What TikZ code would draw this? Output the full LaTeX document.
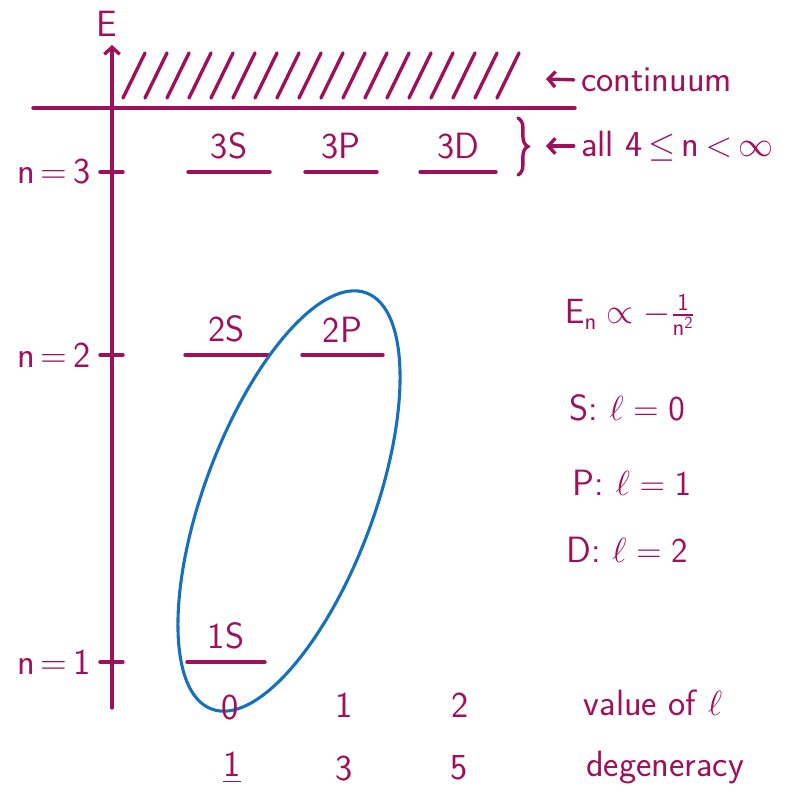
\documentclass[tikz,border=0pt]{standalone}
\usepackage{amssymb}
\usepackage{amsmath}
\usepackage{tikz}
\usetikzlibrary{calc,arrows.meta,decorations.pathreplacing}
\definecolor{ink}{RGB}{160,16,90}
\definecolor{loopblue}{RGB}{22,112,190}

\begin{document}
\begin{tikzpicture}[x=0.025cm, y=-0.025cm,
    ink/.style={draw=ink, line width=2.4pt, line cap=round},
    lbl/.style={text=ink, font=\fontsize{26}{30}\selectfont\sffamily, inner sep=2pt},
    barb/.style={-{Straight Barb[length=5pt, width=11pt]}}]
    \useasboundingbox (0,0) rectangle (788,795);
    \coordinate (axbot) at (112,708); \coordinate (axtop) at (112,45);
    \draw[ink, barb] (axbot) -- (axtop);
    \node[lbl] (E) at (107,24) {E};
    \coordinate (cl) at (33,108); \coordinate (cr) at (575,108);
    \draw[ink] (cl) -- (cr);
    \foreach \x in {123,145,...,500} \draw[ink] (\x,98) -- (\x+22,53);
    \foreach \n/\y in {3/172,2/355,1/662} {
        \coordinate (t\n) at (112,\y);
        \draw[ink] ($(t\n)+(-12,0)$) -- ($(t\n)+(11,0)$);
        \node[lbl, anchor=east] (nl\n) at (94,\y) {n\,=\,\n};
    }
    \foreach \nm/\xa/\xb/\y in {3S/188/270/172, 3P/305/377/172, 3D/420/496/172,
        2S/185/268/355, 2P/302/383/355, 1S/187/265/662} {
        \draw[ink] (\xa,\y) -- (\xb,\y);
        \node[lbl, above=7pt] (lv\nm) at ({(\xa+\xb)/2},\y) {\nm};
    }
    \coordinate (brT) at (518,118); \coordinate (brB) at (518,175);
    \draw[ink, decorate, decoration={brace, amplitude=7pt}] (brT) -- (brB);
    \node[lbl, anchor=west] (cont) at (578,80) {continuum};
    \node[lbl, anchor=west] (allN) at (578,146) {all 4\,$\le$\,n\,$<$\,$\infty$};
    \coordinate (contTip) at (546,79); \coordinate (allTip) at (546,146);
    \draw[ink, barb, shorten <=3pt] (cont.west) -- (contTip);
    \draw[ink, barb, shorten <=3pt] (allN.west) -- (allTip);
    \draw[loopblue, line width=2.2pt, rotate around={69.6:(289,501)}] (289,501) ellipse (222 and 85);
    \node[lbl] (enrg) at (630,315) {$\mathsf{E_n}\propto-\frac{\mathsf{1}}{\mathsf{n}^{\mathsf{2}}}$};
    \node[lbl] (sl) at (627,408) {S: $\ell = \mathsf{0}$};
    \node[lbl] (pl) at (632,483) {P: $\ell = \mathsf{1}$};
    \node[lbl] (dl) at (627,550) {D: $\ell = \mathsf{2}$};
    \node[lbl] (l0) at (230,707) {0}; \node[lbl] (l1) at (344,705) {1};
    \node[lbl] (l2) at (460,705) {2}; \node[lbl] (lval) at (653,703) {value of $\ell$};
    \node[lbl] (g1) at (232,768) {\underline{1}}; \node[lbl] (g3) at (344,768) {3};
    \node[lbl] (g5) at (459,768) {5}; \node[lbl] (gdeg) at (665,768) {degeneracy};
\end{tikzpicture}
\end{document}
